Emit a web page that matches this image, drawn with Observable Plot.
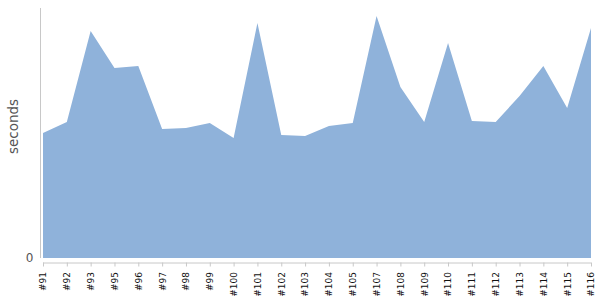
<!DOCTYPE html>
<html>
<head>
<meta charset="utf-8">
<script src="https://cdn.jsdelivr.net/npm/d3@7"></script>
<script src="https://cdn.jsdelivr.net/npm/@observablehq/plot@0.6"></script>
<style>
  html, body { margin: 0; padding: 0; background: #fff; }
  #chart svg { display: block; }
</style>
</head>
<body>
<div id="chart"></div>
<script>
const builds = ["#91","#92","#93","#95","#96","#97","#98","#99","#100","#101","#102","#103",
                "#104","#105","#107","#108","#109","#110","#111","#112","#113","#114","#115","#116"];
const seconds = [125,136,227,190,192,129,130,135,120,235,123,122,
                 132,135,242,171,136,215,137,136,162,192,150,230];
const yMax = 254;
const yTicks = [0];

const data = builds.map((b, i) => ({build: b, seconds: seconds[i]}));

const chart = Plot.plot({
  width: 600,
  height: 300,
  marginLeft: 43,
  marginRight: 9,
  marginTop: 4,
  marginBottom: 42,
  style: {fontFamily: "'DejaVu Sans', sans-serif", background: "#fff"},
  x: {type: "point", domain: builds, padding: 0, round: false},
  y: {domain: [0, yMax]},
  marks: [
    Plot.areaY(data, {x: "build", y: "seconds", fill: "#8fb2da", curve: "linear"}),
    Plot.ruleX([builds[0]], {dx: -3, y1: 0, y2: yMax, insetBottom: -4, stroke: "#c8c8c8"}),
    Plot.ruleY([0], {dy: 4.5, stroke: "#c8c8c8"}),
    Plot.axisX({
      tickRotate: -90, tickSize: 4, tickPadding: 5, dy: 4.5,
      stroke: "#c8c8c8", fill: "#111", fontSize: 9, label: null
    }),
    Plot.axisY({
      ticks: yTicks, tickSize: 0, tickPadding: 10, fill: "#555",
      fontSize: 12, label: null
    }),
    Plot.text(["seconds"], {
      frameAnchor: "left", textAnchor: "middle", rotate: -90, dx: -30, dy: -5,
      text: d => d, fill: "#555", fontSize: 13.5
    })
  ]
});
document.getElementById("chart").appendChild(chart);
</script>
</body>
</html>
